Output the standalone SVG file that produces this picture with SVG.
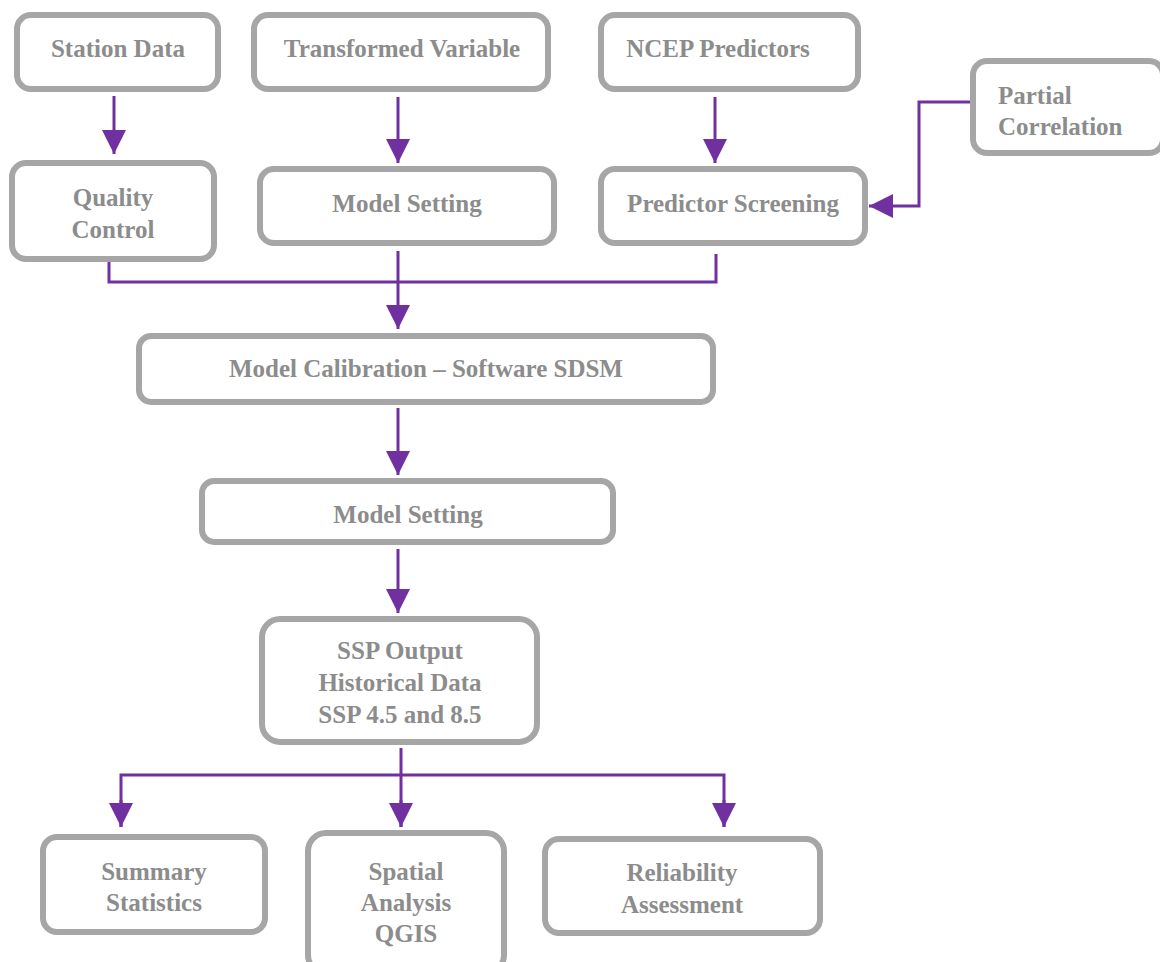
<svg xmlns="http://www.w3.org/2000/svg" width="1160" height="962" viewBox="0 0 1160 962" font-family="Liberation Serif, Times New Roman, serif" font-weight="bold">
<style>
.box{fill:#fff;stroke:#a6a6a6;stroke-width:6}
.t{font-size:25px;fill:#8c8c8c;text-anchor:middle}
.tl{text-anchor:start}
.c{fill:none;stroke:#7030a0;stroke-width:3}
</style>
<defs>
<marker id="ah" markerUnits="userSpaceOnUse" markerWidth="24" markerHeight="24" viewBox="0 0 24 24" refX="24" refY="12" orient="auto">
<path d="M0,0 L24,12 L0,24 Z" fill="#7030a0"/>
</marker>
</defs>
<rect width="1160" height="962" fill="#fff"/>
<g id="connectors">
<path class="c" d="M114,96 V154" marker-end="url(#ah)"/>
<path class="c" d="M398,97 V163" marker-end="url(#ah)"/>
<path class="c" d="M715,97 V163" marker-end="url(#ah)"/>
<path class="c" d="M970,102 H919 V206 H869" marker-end="url(#ah)"/>
<path class="c" d="M109,262 V282 H716 V254"/>
<path class="c" d="M398,251 V329" marker-end="url(#ah)"/>
<path class="c" d="M398,408 V475" marker-end="url(#ah)"/>
<path class="c" d="M398,549 V613" marker-end="url(#ah)"/>
<path class="c" d="M401,748 V827"/>
<path class="c" d="M121,827 V775 H724 V827"/>
<path class="c" d="M121,800 V827" marker-end="url(#ah)"/>
<path class="c" d="M401,800 V827" marker-end="url(#ah)"/>
<path class="c" d="M724,800 V827" marker-end="url(#ah)"/>
</g>
<g id="station-data"><rect class="box" x="17" y="15" width="201" height="74" rx="14"/><text class="t" x="118" y="57" font-family="Liberation Serif">Station Data</text></g>
<g id="transformed-variable"><rect class="box" x="254" y="15" width="294" height="74" rx="14"/><text class="t" x="402" y="57" font-family="Liberation Serif">Transformed Variable</text></g>
<g id="ncep-predictors"><rect class="box" x="601" y="15" width="257" height="74" rx="14"/><text class="t" x="718" y="57" font-family="Liberation Serif">NCEP Predictors</text></g>
<g id="partial-correlation" font-family="Liberation Serif"><rect class="box" x="973" y="61" width="190" height="92" rx="14"/><text class="t tl" x="998" y="104">Partial</text><text class="t tl" x="998" y="135">Correlation</text></g>
<g id="quality-control" font-family="Liberation Serif"><rect class="box" x="12" y="163" width="202" height="96" rx="14"/><text class="t" x="113" y="206">Quality</text><text class="t" x="113" y="238">Control</text></g>
<g id="model-setting-1" font-family="Liberation Serif"><rect class="box" x="260" y="169" width="294" height="74" rx="14"/><text class="t" x="407" y="212">Model Setting</text></g>
<g id="predictor-screening" font-family="Liberation Serif"><rect class="box" x="601" y="169" width="264" height="74" rx="14"/><text class="t" x="733" y="212">Predictor Screening</text></g>
<g id="model-calibration" font-family="Liberation Serif"><rect class="box" x="139" y="336" width="574" height="66" rx="12"/><text class="t" x="426" y="377">Model Calibration – Software SDSM</text></g>
<g id="model-setting-2" font-family="Liberation Serif"><rect class="box" x="202" y="481" width="411" height="61" rx="12"/><text class="t" x="408" y="523">Model Setting</text></g>
<g id="ssp-output" font-family="Liberation Serif"><rect class="box" x="262" y="619" width="275" height="123" rx="18"/><text class="t" x="400" y="659">SSP Output</text><text class="t" x="400" y="691">Historical Data</text><text class="t" x="400" y="723">SSP 4.5 and 8.5</text></g>
<g id="summary-statistics" font-family="Liberation Serif"><rect class="box" x="43" y="837" width="222" height="95" rx="14"/><text class="t" x="154" y="880">Summary</text><text class="t" x="154" y="911">Statistics</text></g>
<g id="spatial-analysis" font-family="Liberation Serif"><rect class="box" x="308" y="833" width="196" height="140" rx="18"/><text class="t" x="406" y="880">Spatial</text><text class="t" x="406" y="911">Analysis</text><text class="t" x="406" y="942">QGIS</text></g>
<g id="reliability-assessment" font-family="Liberation Serif"><rect class="box" x="545" y="839" width="275" height="94" rx="14"/><text class="t" x="682" y="881">Reliability</text><text class="t" x="682" y="913">Assessment</text></g>
</svg>
